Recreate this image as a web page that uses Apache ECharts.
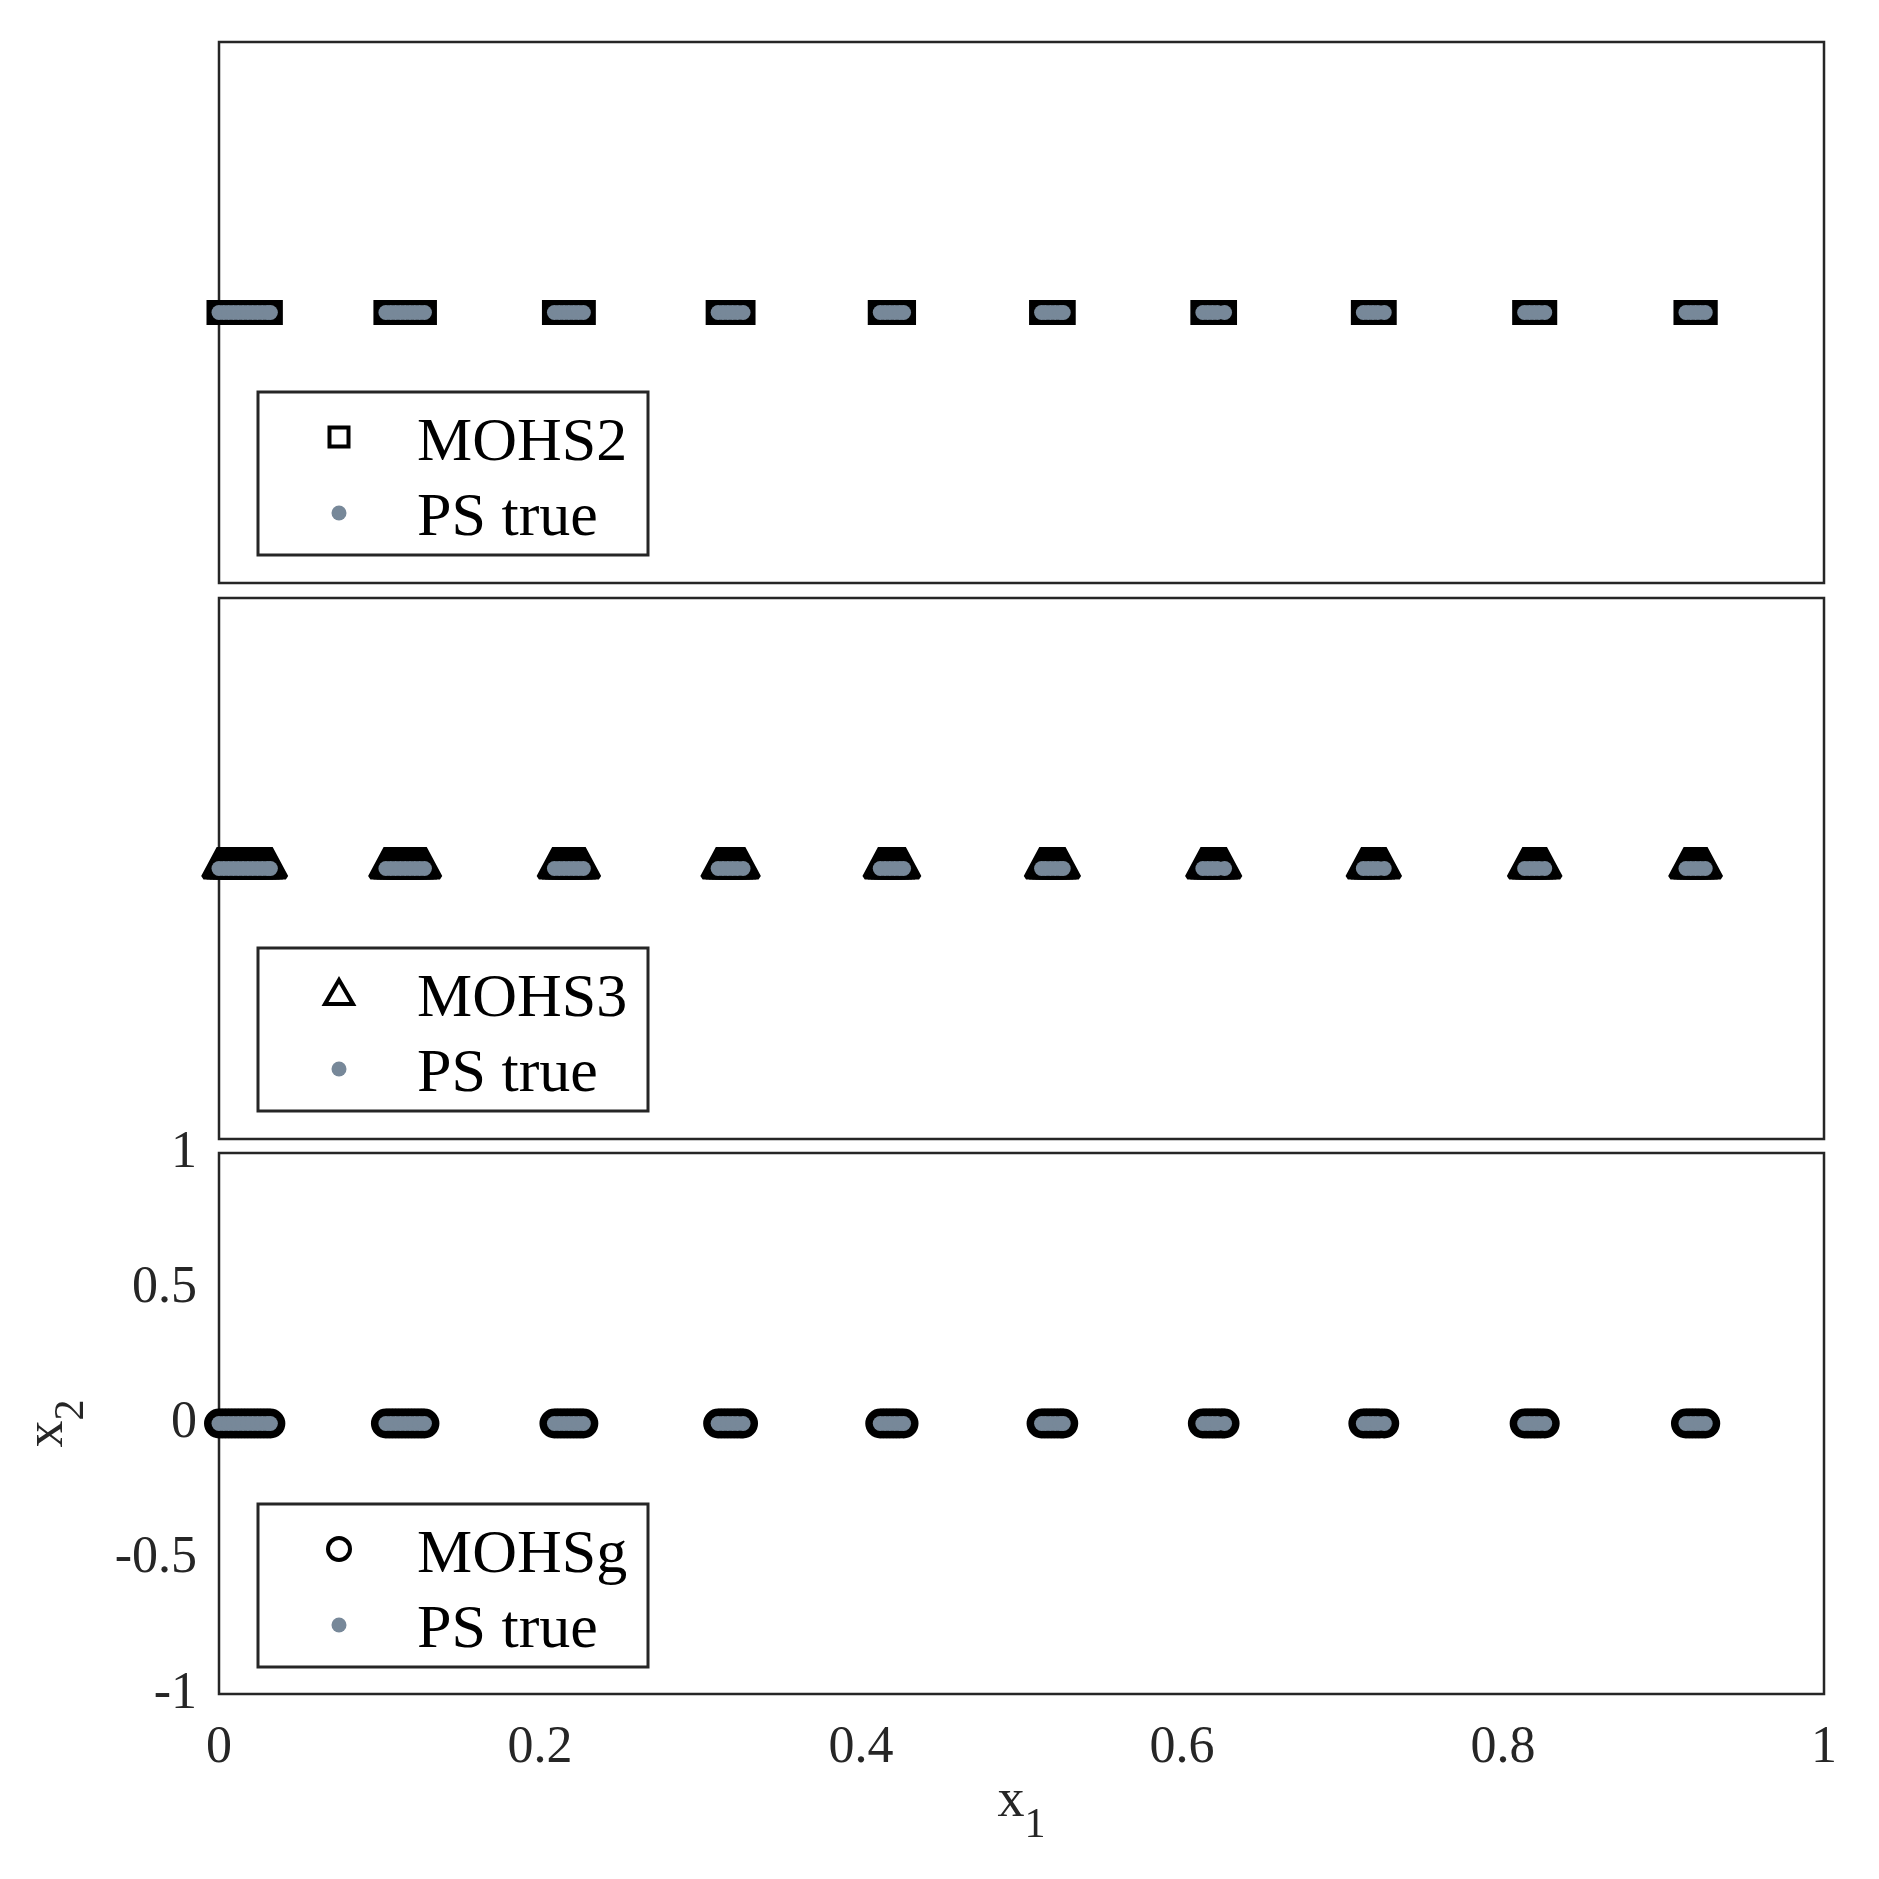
<!DOCTYPE html>
<html>
<head>
<meta charset="utf-8">
<script src="https://cdn.jsdelivr.net/npm/echarts@6/dist/echarts.min.js"></script>
<style>html,body{margin:0;padding:0;background:#fff}#c{width:1879px;height:1879px}</style>
</head>
<body>
<div id="c"></div>
<script>
// ---- data (x1 positions; all points lie at x2 = 0) ----
const psTrueX = [
  0.000,0.003,0.006,0.009,0.012,0.015,0.018,0.021,0.024,0.027,0.030,0.032,
  0.104,0.107,0.110,0.113,0.116,0.119,0.122,0.125,0.128,
  0.209,0.212,0.215,0.218,0.221,0.224,0.227,
  0.311,0.314,0.317,0.320,0.323,0.3265,
  0.412,0.415,0.418,0.421,0.424,0.4265,
  0.5125,0.515,0.518,0.521,0.524,0.526,
  0.613,0.616,0.619,0.622,0.6265,
  0.713,0.716,0.719,0.722,0.726,
  0.8135,0.8165,0.8195,0.8225,0.826,
  0.914,0.917,0.920,0.923,0.926
];
const psTrueY = 0;
const mohs2X = [
  0.000,0.002,0.004,0.006,0.008,0.010,0.012,0.014,0.016,0.018,0.020,0.022,0.024,0.026,0.028,0.030,0.032,
  0.104,0.106,0.108,0.110,0.112,0.114,0.116,0.118,0.120,0.122,0.124,0.126,0.128,
  0.209,0.211,0.213,0.215,0.217,0.219,0.221,0.223,0.225,0.227,
  0.311,0.313,0.315,0.317,0.319,0.321,0.323,0.325,0.3265,
  0.412,0.414,0.416,0.418,0.420,0.422,0.424,0.4265,
  0.5125,0.5145,0.5165,0.5185,0.5205,0.5225,0.5245,0.526,
  0.613,0.615,0.617,0.619,0.621,0.623,0.625,0.6265,
  0.713,0.715,0.717,0.719,0.721,0.723,0.726,
  0.8135,0.8155,0.8175,0.8195,0.8215,0.8235,0.826,
  0.914,0.916,0.918,0.920,0.922,0.924,0.926
];
const mohs3X = mohs2X.slice();
const mohsgX = mohs2X.slice();
const mohsY = 0;
const xTicks = [0, 0.2, 0.4, 0.6, 0.8, 1];
const yTicks = [-1, -0.5, 0, 0.5, 1];
const algoNames = ['MOHS2', 'MOHS3', 'MOHSg'];
const psName = 'PS true';

// ---- styling ----
const FONT = 'Liberation Serif';
const AX = '#262626';
const GRAY = '#778899';
const gridTops = [42, 598, 1153];
const gridH = 541;
const L = 219, R = 55;

const grids = gridTops.map(t => ({
  left: L, right: R, top: t, height: gridH,
  show: true, borderColor: AX, borderWidth: 2.5, backgroundColor: '#fff'
}));

const richName = {
  x: {fontFamily: FONT, fontSize: 54, color: AX, lineHeight: 60, verticalAlign: 'top'},
  s: {fontFamily: FONT, fontSize: 42, color: AX, lineHeight: 60, padding: [30, 0, 0, 0], verticalAlign: 'top'}
};

const xAxes = gridTops.map((t, i) => ({
  type: 'value', gridIndex: i, min: xTicks[0], max: xTicks[xTicks.length - 1], interval: 0.2,
  axisLine: {show: false}, axisTick: {show: false}, splitLine: {show: false},
  axisLabel: {show: i === 2, fontFamily: FONT, fontSize: 52, color: AX, margin: 28},
  name: i === 2 ? '{x|x}{s|1}' : '',
  nameLocation: 'middle', nameGap: 80,
  nameTextStyle: {fontFamily: FONT, color: AX, rich: richName}
}));

const yAxes = gridTops.map((t, i) => ({
  type: 'value', gridIndex: i, min: yTicks[0], max: yTicks[yTicks.length - 1], interval: 0.5,
  axisLine: {show: false}, axisTick: {show: false}, splitLine: {show: false},
  axisLabel: {show: i === 2, fontFamily: FONT, fontSize: 52, color: AX, margin: 22},
  name: i === 2 ? '{x|x}{s|2}' : '',
  nameLocation: 'middle', nameGap: 138, nameRotate: 90,
  nameTextStyle: {fontFamily: FONT, color: AX, rich: richName}
}));

const algoX = [mohs2X, mohs3X, mohsgX];
const algoSym = [
  {symbol: 'rect', symbolSize: 19, borderWidth: 6, symbolOffset: [0, 0], join: 'miter'},
  {symbol: 'triangle', symbolSize: [31, 29], borderWidth: 5, symbolOffset: [0, -6], join: 'bevel'},
  {symbol: 'circle', symbolSize: 23, borderWidth: 7, symbolOffset: [0, 0], join: 'round'}
];

const series = [];
algoNames.forEach((nm, i) => {
  series.push({
    name: nm, type: 'scatter', xAxisIndex: i, yAxisIndex: i,
    data: algoX[i].map(x => [x, mohsY]),
    symbol: algoSym[i].symbol, symbolSize: algoSym[i].symbolSize,
    symbolOffset: algoSym[i].symbolOffset,
    itemStyle: {color: 'rgba(0,0,0,0)', borderColor: '#000', borderWidth: algoSym[i].borderWidth,
                borderJoin: algoSym[i].join, borderMiterLimit: 10, opacity: 1},
    emphasis: {disabled: true}, silent: true, z: 2
  });
  series.push({
    name: psName, type: 'scatter', xAxisIndex: i, yAxisIndex: i,
    data: psTrueX.map(x => [x, psTrueY]),
    symbol: 'circle', symbolSize: 15,
    itemStyle: {color: GRAY, borderWidth: 0, opacity: 1},
    emphasis: {disabled: true}, silent: true, z: 3
  });
});

// ---- legends (drawn as graphic boxes) ----
const legendTops = [392, 948, 1504];
const graphic = [];
legendTops.forEach((top, i) => {
  const cx = 339, y1 = top + 45, y2 = top + 121;
  graphic.push({type: 'rect', shape: {x: 258, y: top, width: 390, height: 163},
    style: {fill: '#fff', stroke: AX, lineWidth: 3}, z: 10});
  if (i === 0) {
    graphic.push({type: 'rect', shape: {x: cx - 9.5, y: y1 - 9.5, width: 19, height: 19},
      style: {fill: 'none', stroke: '#000', lineWidth: 4}, z: 11});
  } else if (i === 1) {
    graphic.push({type: 'polygon', shape: {points: [[cx, y1 - 13], [cx - 14, y1 + 11], [cx + 14, y1 + 11]]},
      style: {fill: 'none', stroke: '#000', lineWidth: 4, lineJoin: 'miter'}, z: 11});
  } else {
    graphic.push({type: 'circle', shape: {cx: cx, cy: y1, r: 11},
      style: {fill: 'none', stroke: '#000', lineWidth: 4}, z: 11});
  }
  graphic.push({type: 'circle', shape: {cx: cx, cy: y2, r: 7.5},
    style: {fill: GRAY}, z: 11});
  graphic.push({type: 'text', x: 417, y: y1 + 7, z: 11,
    style: {text: algoNames[i], font: '62px "' + FONT + '"', fill: '#000', verticalAlign: 'middle', align: 'left'}});
  graphic.push({type: 'text', x: 417, y: y2 + 6, z: 11,
    style: {text: psName, font: '62px "' + FONT + '"', fill: '#000', verticalAlign: 'middle', align: 'left'}});
});

const chart = echarts.init(document.getElementById('c'), null, {renderer: 'canvas'});
chart.setOption({
  backgroundColor: '#fff',
  animation: false,
  grid: grids,
  xAxis: xAxes,
  yAxis: yAxes,
  series: series,
  graphic: graphic
});
</script>
</body>
</html>
